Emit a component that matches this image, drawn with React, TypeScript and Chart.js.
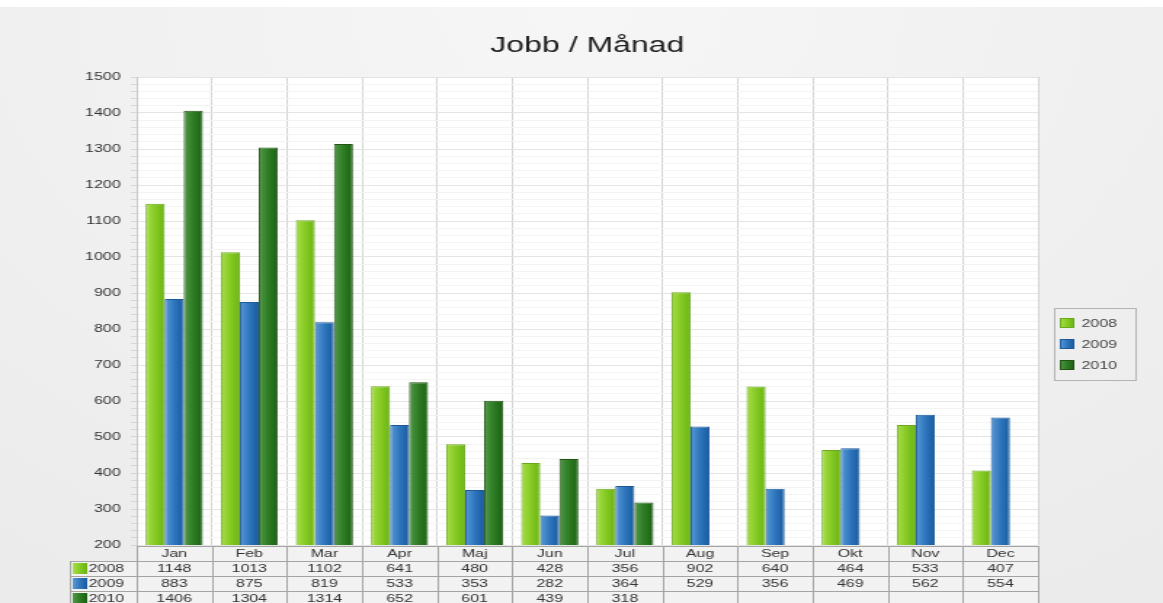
import React, { useEffect, useRef } from "react";
import { Chart, registerables } from "chart.js";

Chart.register(...registerables);

const months = ["Jan", "Feb", "Mar", "Apr", "Maj", "Jun", "Jul", "Aug", "Sep", "Okt", "Nov", "Dec"];
const seriesNames = ["2008", "2009", "2010"];
const values2008 = [1148, 1013, 1102, 641, 480, 428, 356, 902, 640, 464, 533, 407];
const values2009 = [883, 875, 819, 533, 353, 282, 364, 529, 356, 469, 562, 554];
const values2010 = [1406, 1304, 1314, 652, 601, 439, 318, null, null, null, null, null];
const yMin = 200;
const yMax = 1500;
const yMajorStep = 100;
const yMinorStep = 20;
const titleText = "Jobb / Månad";

const FONT = "'Liberation Sans', Arial, sans-serif";
const W = 800;
const H = 596;
const STRETCH = 1163 / W;

const gradStops = [
  ["#a8de4a", "#86ca24", "#6ab412"],
  ["#5a9ad6", "#2e76bd", "#185a9e"],
  ["#529848", "#2e7c24", "#1a6212"],
];
const borderCols = ["#6aa81e", "#1c5a9c", "#245414"];

function makeGrad(ctx: CanvasRenderingContext2D, x0: number, x1: number, i: number) {
  const g = ctx.createLinearGradient(x0, 0, x1, 0);
  g.addColorStop(0, gradStops[i][0]);
  g.addColorStop(0.5, gradStops[i][1]);
  g.addColorStop(1, gradStops[i][2]);
  return g;
}

const bgPlugin = {
  id: "bgPlugin",
  beforeDraw(chart: any) {
    const { ctx, chartArea } = chart;
    ctx.save();
    const g = ctx.createRadialGradient(W / 2, 0, 20, W / 2, 0, 700);
    g.addColorStop(0, "#f6f6f6");
    g.addColorStop(1, "#ebebeb");
    ctx.fillStyle = g;
    ctx.fillRect(0, 0, W, H);
    ctx.fillStyle = "#ffffff";
    ctx.fillRect(chartArea.left, chartArea.top, chartArea.right - chartArea.left, chartArea.bottom - chartArea.top);
    ctx.restore();
  },
  beforeDatasetsDraw(chart: any) {
    const ctx = chart.ctx;
    chart.data.datasets.forEach((_ds: any, di: number) => {
      const meta = chart.getDatasetMeta(di);
      meta.data.forEach((el: any) => {
        const x = el.x;
        const w = el.width;
        if (!isFinite(x) || !isFinite(w)) return;
        el.options = Object.assign({}, el.options, { backgroundColor: makeGrad(ctx, x - w / 2, x + w / 2, di) });
      });
    });
  },
  afterDraw(chart: any) {
    const { ctx, chartArea } = chart;
    ctx.save();
    // Title
    ctx.fillStyle = "#1e1e1e";
    ctx.font = `22px ${FONT}`;
    ctx.textAlign = "center";
    ctx.textBaseline = "alphabetic";
    ctx.fillText(titleText, (chartArea.left + chartArea.right) / 2, 45);

    // Legend box
    const lx = 725, ly = 301, lw = 56, lh = 72;
    ctx.strokeStyle = "#b4b4b4";
    ctx.lineWidth = 1;
    ctx.strokeRect(lx + 0.5, ly + 0.5, lw, lh);
    ctx.font = `11px ${FONT}`;
    ctx.textAlign = "left";
    ctx.textBaseline = "middle";
    seriesNames.forEach((name, i) => {
      const cy = 316 + i * 21;
      ctx.fillStyle = makeGrad(ctx, 729, 739, i);
      ctx.fillRect(729, cy - 5, 10, 10);
      ctx.strokeStyle = borderCols[i];
      ctx.strokeRect(729.5, cy - 4.5, 9, 9);
      ctx.fillStyle = "#444";
      ctx.fillText(name, 744, cy + 0.5);
    });

    // Data table
    const n = months.length;
    const colW = (chartArea.right - chartArea.left) / n;
    const top = chartArea.bottom + 1;
    const rowH = 15;
    const rows = [values2008, values2009, values2010];
    const leftX = 48;
    ctx.lineWidth = 1;
    // cell fills
    ctx.fillStyle = "#f2f2f2";
    ctx.fillRect(chartArea.left, top, chartArea.right - chartArea.left, rowH * 4);
    ctx.fillRect(leftX, top + rowH, chartArea.left - leftX, rowH * 3);
    ctx.strokeStyle = "#a4a4a4";
    // horizontal lines
    for (let r = 0; r <= 4; r++) {
      const y = Math.round(top + r * rowH) + 0.5;
      ctx.beginPath();
      ctx.moveTo(r === 0 ? chartArea.left : leftX, y);
      ctx.lineTo(chartArea.right, y);
      ctx.stroke();
    }
    // vertical lines
    for (let c = 0; c <= n; c++) {
      const x = Math.round(chartArea.left + c * colW) + 0.5;
      ctx.beginPath();
      ctx.moveTo(x, top);
      ctx.lineTo(x, top + rowH * 4);
      ctx.stroke();
    }
    ctx.beginPath();
    ctx.moveTo(leftX + 0.5, top + rowH);
    ctx.lineTo(leftX + 0.5, top + rowH * 4);
    ctx.stroke();

    ctx.fillStyle = "#333";
    ctx.textAlign = "center";
    ctx.textBaseline = "middle";
    months.forEach((m, c) => {
      const cx = chartArea.left + (c + 0.5) * colW;
      ctx.fillText(m, cx, top + rowH / 2 + 0.5);
      rows.forEach((vals, r) => {
        const v = vals[c];
        if (v !== null && v !== undefined) {
          ctx.fillText(String(v), cx, top + rowH * (r + 1) + rowH / 2 + 0.5);
        }
      });
    });
    seriesNames.forEach((name, r) => {
      const y = top + rowH * (r + 1);
      ctx.fillStyle = makeGrad(ctx, 50, 60, r);
      ctx.fillRect(50, y + 2, 10, 11);
      ctx.fillStyle = "#333";
      ctx.textAlign = "left";
      ctx.fillText(name, 61, y + rowH / 2 + 0.5);
    });
    ctx.restore();
  },
};

export default function App() {
  const ref = useRef<HTMLCanvasElement | null>(null);
  useEffect(() => {
    if (!ref.current) return;
    const datasets = [values2008, values2009, values2010].map((vals, i) => ({
      label: seriesNames[i],
      data: vals,
      backgroundColor: gradStops[i][1],
      borderColor: borderCols[i],
      borderWidth: 1,
      borderSkipped: "bottom" as const,
      categoryPercentage: 0.76,
      barPercentage: 1.0,
    }));
    const chart = new Chart(ref.current, {
      type: "bar",
      data: { labels: months, datasets },
      options: {
        responsive: false,
        animation: false,
        devicePixelRatio: 1,
        layout: { padding: { left: 0, right: 86, top: 70, bottom: 58 } },
        scales: {
          x: {
            offset: true,
            grid: { offset: true, color: "#d4d4d4", drawTicks: false },
            ticks: { display: false },
            border: { display: false },
          },
          y: {
            min: yMin,
            max: yMax,
            afterFit: (s: any) => {
              s.width = 94;
            },
            ticks: {
              stepSize: yMinorStep,
              autoSkip: false,
              padding: 7,
              color: "#333",
              font: { family: FONT, size: 11 },
              callback: (v: any) => (Number(v) % yMajorStep === 0 ? String(v) : ""),
            },
            grid: {
              tickLength: 4,
              color: (c: any) => (c.tick && c.tick.value % yMajorStep === 0 ? "#e4e4e4" : "#f3f3f3"),
              tickColor: "#d8d8d8",
            },
            border: { color: "#c8c8c8" },
          },
        },
        plugins: { legend: { display: false }, title: { display: false }, tooltip: { enabled: false } },
      },
      plugins: [bgPlugin],
    });
    return () => chart.destroy();
  }, []);
  return (
    <div style={{ position: "absolute", left: 0, top: 0, width: 1163, height: 603, overflow: "hidden", background: "#fff" }}>
      <div
        style={{
          position: "absolute",
          left: 0,
          top: 7,
          width: W,
          height: H,
          transform: `scaleX(${STRETCH})`,
          transformOrigin: "0 0",
        }}
      >
        <canvas ref={ref} width={W} height={H} style={{ display: "block" }} />
      </div>
    </div>
  );
}
